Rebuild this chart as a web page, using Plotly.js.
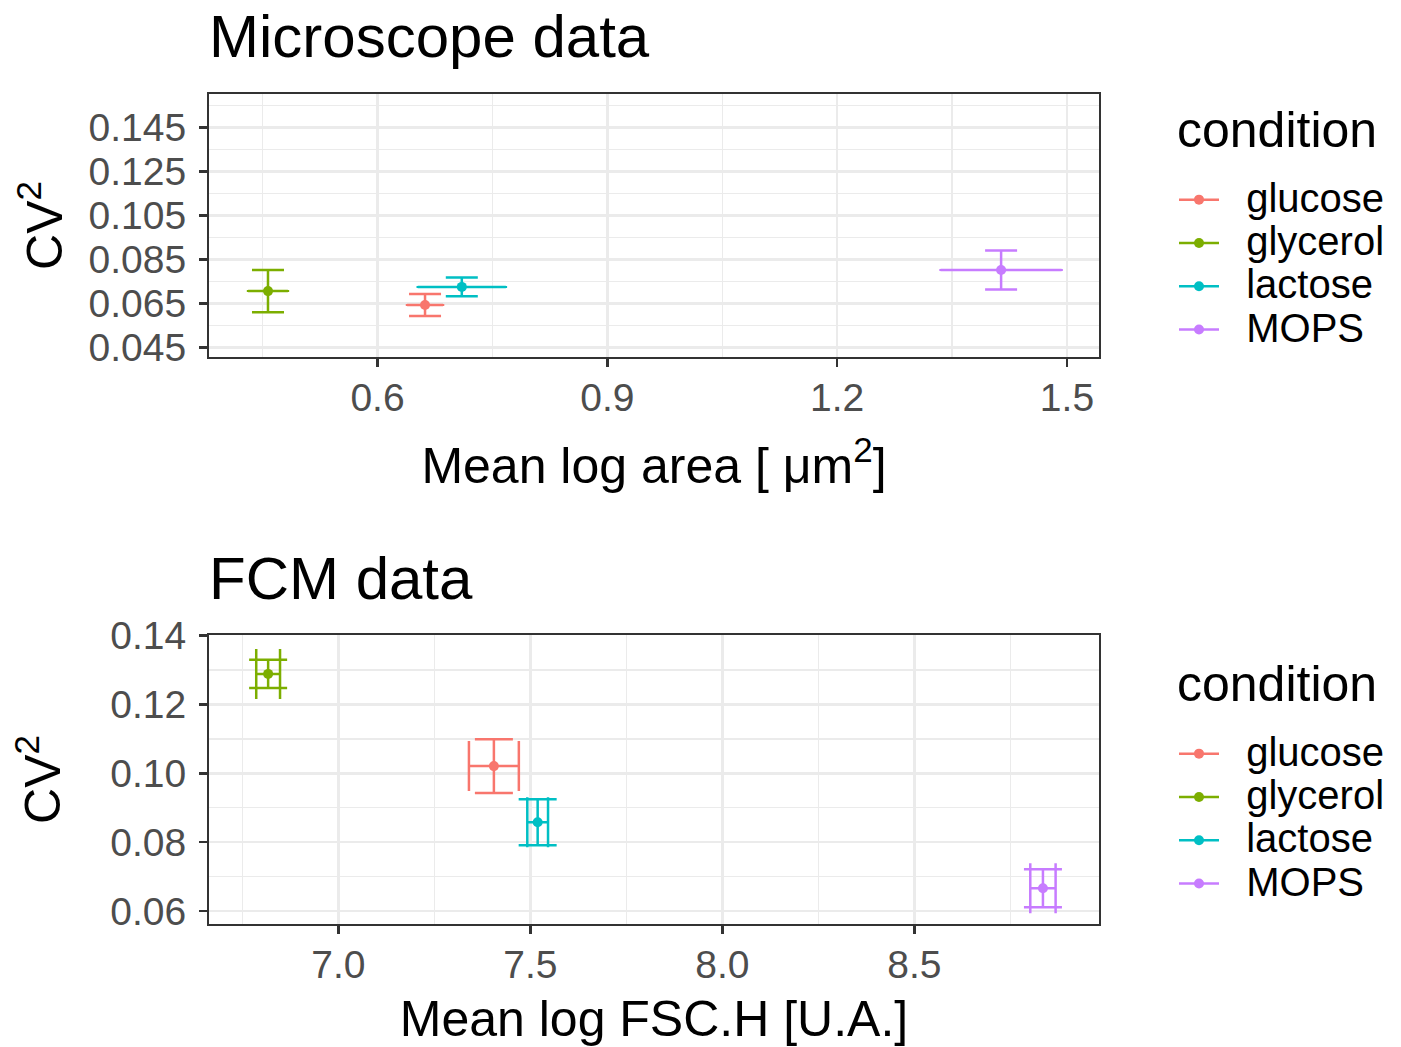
<!DOCTYPE html>
<html>
<head>
<meta charset="utf-8">
<script src="https://cdn.plot.ly/plotly-3.0.1.min.js"></script>
<style>html,body{margin:0;padding:0;background:#fff;}#chart{width:1401px;height:1047px;}</style>
</head>
<body>
<div id="chart"></div>
<script>
// ---- data ----
const conditions = ['glucose', 'glycerol', 'lactose', 'MOPS'];
const conditionColors = ['#F8766D', '#7CAE00', '#00BFC4', '#C77CFF'];
const legendTitle = 'condition';

// Microscope data
const microMeanLogArea = [0.662, 0.457, 0.710, 1.414];
const microMeanLogAreaErr = [0.0235, 0.026, 0.0575, 0.079];
const microCV2 = [0.0643, 0.0706, 0.0725, 0.0802];
const microCV2Err = [0.0050, 0.0096, 0.0043, 0.0089];

// FCM data
const fcmMeanLogFSC = [7.405, 6.817, 7.519, 8.835];
const fcmMeanLogFSCErr = [0.065, 0.031, 0.027, 0.033];
const fcmCV2 = [0.1021, 0.1289, 0.0858, 0.0666];
const fcmCV2Err = [0.0078, 0.0041, 0.0067, 0.0055];

// ---- build ----
const FONT = '"Liberation Sans", Arial, Helvetica, sans-serif';
const W = 1401, H = 1047;
const px = v => v / W;
const py = v => 1 - v / H;
const legendName = c => '<span style="font-size:40px">&nbsp;&nbsp;' + c + '</span>';

const traces = [];
conditions.forEach((c, i) => {
  traces.push({
    type: 'scatter', mode: 'lines+markers', name: legendName(c),
    x: [microMeanLogArea[i]], y: [microCV2[i]],
    xaxis: 'x', yaxis: 'y', legend: 'legend',
    marker: {color: conditionColors[i], size: 10},
    line: {color: conditionColors[i], width: 2.5},
    error_x: {type: 'data', array: [microMeanLogAreaErr[i]], color: conditionColors[i], thickness: 2.5, width: 1},
    error_y: {type: 'data', array: [microCV2Err[i]], color: conditionColors[i], thickness: 2.5, width: 16}
  });
});
conditions.forEach((c, i) => {
  traces.push({
    type: 'scatter', mode: 'lines+markers', name: legendName(c),
    x: [fcmMeanLogFSC[i]], y: [fcmCV2[i]],
    xaxis: 'x2', yaxis: 'y2', legend: 'legend2',
    marker: {color: conditionColors[i], size: 10},
    line: {color: conditionColors[i], width: 2.5},
    error_x: {type: 'data', array: [fcmMeanLogFSCErr[i]], color: conditionColors[i], thickness: 2.5, width: 25},
    error_y: {type: 'data', array: [fcmCV2Err[i]], color: conditionColors[i], thickness: 2.5, width: 19}
  });
});

const axisBase = {
  showline: true, mirror: true, linecolor: '#333333', linewidth: 2,
  ticks: 'outside', ticklen: 8, tickwidth: 2.5, tickcolor: '#333333',
  showgrid: true, gridcolor: '#EBEBEB', gridwidth: 2.5,
  zeroline: false,
  tickfont: {family: FONT, size: 39, color: '#4D4D4D'}
};
const mk = (o) => Object.assign(JSON.parse(JSON.stringify(axisBase)), o);
const minorGrid = (t0, dt) => ({tick0: t0, dtick: dt, showgrid: true, gridcolor: '#EBEBEB', gridwidth: 1.2, ticks: ''});
const titleFont = {family: FONT, size: 50, color: '#000'};

const legendBase = (top) => ({
  x: px(1174), y: py(top), xanchor: 'left', yanchor: 'top',
  font: {family: FONT, size: 31, color: '#000'},
  bgcolor: 'rgba(0,0,0,0)', borderwidth: 0, itemwidth: 40
});

const layout = {
  width: W, height: H,
  margin: {l: 0, r: 0, t: 0, b: 0},
  paper_bgcolor: '#ffffff', plot_bgcolor: '#ffffff',
  font: {family: FONT, color: '#000000'},
  xaxis: mk({
    domain: [px(209), px(1099)], anchor: 'y',
    range: [0.380, 1.5418], tickmode: 'linear', tick0: 0.6, dtick: 0.3, tickformat: '.1f',
    ticklabelstandoff: -3,
    minor: minorGrid(0.45, 0.15),
    title: {text: 'Mean log area [ μm<sup>2</sup>]', standoff: 30, font: titleFont}
  }),
  yaxis: mk({
    domain: [py(357), py(94)], anchor: 'x',
    range: [0.0406, 0.1603], tickmode: 'linear', tick0: 0.045, dtick: 0.02, tickformat: '.3f',
    ticklabelstandoff: 5,
    minor: minorGrid(0.035, 0.01),
    title: {text: 'CV<sup>2</sup>', standoff: 10, font: titleFont}
  }),
  xaxis2: mk({
    domain: [px(209), px(1099)], anchor: 'y2',
    range: [6.663, 8.981], tickmode: 'linear', tick0: 7.0, dtick: 0.5, tickformat: '.1f',
    ticklabelstandoff: -3,
    minor: minorGrid(6.75, 0.25),
    title: {text: 'Mean log FSC.H [U.A.]', standoff: 17, font: titleFont}
  }),
  yaxis2: mk({
    domain: [py(924), py(635)], anchor: 'x2',
    range: [0.05622, 0.1402], tickmode: 'linear', tick0: 0.06, dtick: 0.02, tickformat: '.2f',
    ticklabelstandoff: 5,
    minor: minorGrid(0.05, 0.01),
    title: {text: 'CV<sup>2</sup>', standoff: 34, font: titleFont}
  }),
  legend: legendBase(173),
  legend2: legendBase(727),
  annotations: [
    {text: 'Microscope data', xref: 'paper', yref: 'paper', x: px(207), y: py(37),
     xanchor: 'left', yanchor: 'middle', showarrow: false, font: {family: FONT, size: 60, color: '#000'}},
    {text: 'FCM data', xref: 'paper', yref: 'paper', x: px(207), y: py(578),
     xanchor: 'left', yanchor: 'middle', showarrow: false, font: {family: FONT, size: 60, color: '#000'}},
    {text: legendTitle, xref: 'paper', yref: 'paper', x: px(1175), y: py(130),
     xanchor: 'left', yanchor: 'middle', showarrow: false, font: {family: FONT, size: 50, color: '#000'}},
    {text: legendTitle, xref: 'paper', yref: 'paper', x: px(1175), y: py(684),
     xanchor: 'left', yanchor: 'middle', showarrow: false, font: {family: FONT, size: 50, color: '#000'}}
  ],
  showlegend: true
};

Plotly.newPlot('chart', traces, layout, {staticPlot: true, displayModeBar: false});
</script>
</body>
</html>
